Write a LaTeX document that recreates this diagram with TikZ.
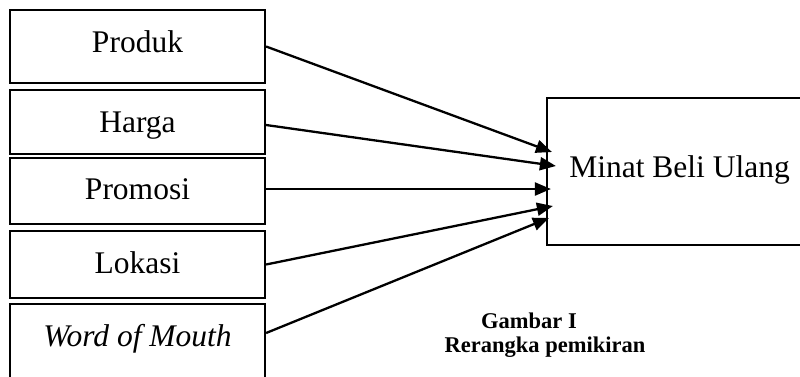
\documentclass[tikz,border=0pt]{standalone}
\usepackage{fontspec}
\setmainfont{Liberation Serif}
\usetikzlibrary{arrows.meta}
\tikzset{
  faktor/.style={draw,line width=2.2pt,inner sep=0pt,minimum width=255pt,anchor=base,
    font=\fontsize{31.5}{36}\selectfont},
  panah/.style={line width=2.3pt,-{Triangle[length=16pt,width=13pt]}},
  judul/.style={anchor=base,font=\fontsize{22.5}{26}\selectfont\bfseries}
}
\begin{document}
\begin{tikzpicture}[x=1pt,y=-1pt]
\useasboundingbox (0,0) rectangle (800,376);
% variabel bebas
\node[faktor,text height=42pt,text depth=31pt] (prod) at (137.5,52) {Produk};
\node[faktor,text height=42pt,text depth=22pt] (harga) at (137.5,132) {Harga};
\node[faktor,text height=41pt,text depth=25pt] (promo) at (137.5,199) {Promosi};
\node[faktor,text height=42pt,text depth=25pt] (lok) at (137.5,273) {Lokasi};
\node[faktor,text height=42pt,text depth=34pt] (wom) at (137.5,346) {\textit{Word of Mouth}};
% variabel terikat
\node[faktor,minimum width=265pt,text height=79pt,text depth=68pt] (minat) at (679.5,177) {Minat Beli Ulang};
\draw[panah] (prod.east) -- ([xshift=6pt,yshift=19.5pt]minat.west);
\draw[panah] ([yshift=-3pt]harga.east) -- ([xshift=10pt,yshift=5.5pt]minat.west);
\draw[panah] ([yshift=2pt]promo.east) -- ([xshift=5pt,yshift=-17.5pt]minat.west);
\draw[panah] (lok.east) -- ([xshift=7pt,yshift=-34.5pt]minat.west);
\draw[panah] ([yshift=9pt]wom.east) -- ([xshift=3pt,yshift=-46.5pt]minat.west);
% keterangan
\node[judul] (gbr) at (529,328) {Gambar I};
\node[judul] (ket) at (545,352) {Rerangka pemikiran};
\end{tikzpicture}
\end{document}
